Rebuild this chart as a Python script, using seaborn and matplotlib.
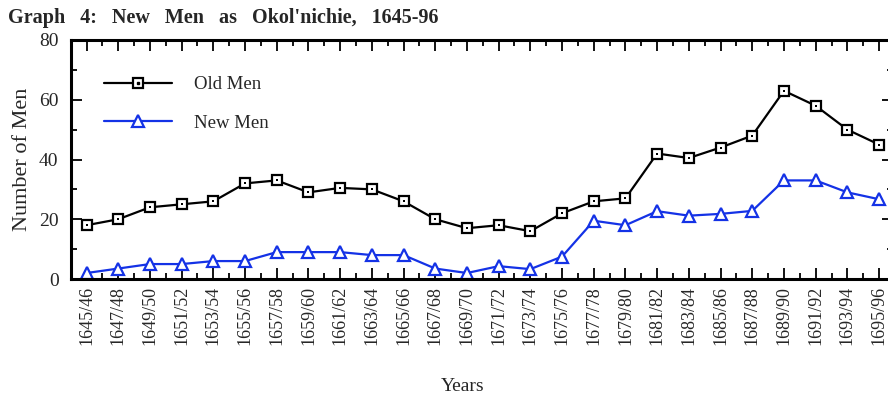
import numpy as np
import matplotlib
matplotlib.use("Agg")
import matplotlib.pyplot as plt
import seaborn as sns
from matplotlib.lines import Line2D

# data
periods = ["1645/46", "1647/48", "1649/50", "1651/52", "1653/54", "1655/56",
           "1657/58", "1659/60", "1661/62", "1663/64", "1665/66", "1667/68",
           "1669/70", "1671/72", "1673/74", "1675/76", "1677/78", "1679/80",
           "1681/82", "1683/84", "1685/86", "1687/88", "1689/90", "1691/92",
           "1693/94", "1695/96"]
old_men = [18, 20, 24, 25, 26, 32, 33, 29, 30.5, 30, 26, 20,
           17, 18, 16, 22, 26, 27, 42, 40.5, 44, 48, 63, 58, 50, 45]
new_men = [2, 3.5, 5, 5, 6, 6, 9, 9, 9, 8, 8, 3.5,
           2, 4.3, 3.3, 7.5, 19.5, 18, 22.7, 21.2, 21.8, 22.8, 33, 33, 29, 26.7]
y_ticks = [0, 20, 40, 60, 80]

BLUE = "#1432e6"

sns.set_theme(style="ticks")
plt.rcParams["font.family"] = ["Liberation Serif", "DejaVu Serif"]

fig = plt.figure(figsize=(8.88, 4), dpi=100)
ax = fig.add_axes([71 / 888, 121 / 400, (893 - 71) / 888, 239 / 400])

sns.lineplot(x=periods, y=old_men, ax=ax, color="black", lw=1.6,
             marker="s", markersize=7, markerfacecolor="white",
             markeredgecolor="black", markeredgewidth=1.6, sort=False)
sns.scatterplot(x=periods, y=old_men, ax=ax, marker="s", s=3,
                color="black", linewidth=0, zorder=5)
sns.lineplot(x=periods, y=new_men, ax=ax, color=BLUE, lw=1.6,
             marker="^", markersize=8, markerfacecolor="white",
             markeredgecolor=BLUE, markeredgewidth=1.6, sort=False)

ax.set_xlim(-0.49, 25.44)
ax.set_ylim(0, 80)
ax.set_yticks(y_ticks)
ax.set_yticks(np.arange(10, 80, 20), minor=True)
ax.set_xticks(np.arange(len(periods)))
ax.set_xticklabels(periods, rotation=90, fontsize=13)
ax.set_xticks(np.arange(len(periods) - 1) + 0.5, minor=True)
ax.tick_params(axis="y", labelsize=14, pad=9)
ax.tick_params(axis="x", pad=5)
ax.tick_params(which="major", direction="in", length=8, width=1.3,
               top=True, right=True, color="black")
ax.tick_params(which="minor", direction="in", length=4.5, width=1.3,
               top=True, right=True, color="black")
for s in ax.spines.values():
    s.set_linewidth(2.2)
    s.set_color("black")

ax.set_ylabel("Number of Men", fontsize=16)
ax.yaxis.set_label_coords(-0.047, 0.5)
ax.set_xlabel("Years", fontsize=14)
ax.xaxis.set_label_coords(0.477, -0.415)

h_old = Line2D([], [], color="black", lw=1.6, marker="s", markersize=7,
               markerfacecolor="white", markeredgecolor="black",
               markeredgewidth=1.6)
h_dot = Line2D([], [], ls="none", marker="s", markersize=1.8, color="black")
h_new = Line2D([], [], color=BLUE, lw=1.6, marker="^", markersize=8,
               markerfacecolor="white", markeredgecolor=BLUE,
               markeredgewidth=1.6)
ax.legend(handles=[(h_old, h_dot), h_new], labels=["Old Men", "New Men"],
          loc="upper left", bbox_to_anchor=(104 / 888, 1 - 76 / 400),
          bbox_transform=fig.transFigure, frameon=False, fontsize=13.5,
          handlelength=3.6, handletextpad=1.2, labelspacing=1.15,
          borderpad=0, borderaxespad=0)

fig.text(8 / 888, 1 - 8 / 400,
         "Graph   4:   New   Men   as   Okol'nichie,   1645-96",
         fontsize=14.5, fontweight="bold", ha="left", va="top")

fig.savefig("out.png", dpi=100)
